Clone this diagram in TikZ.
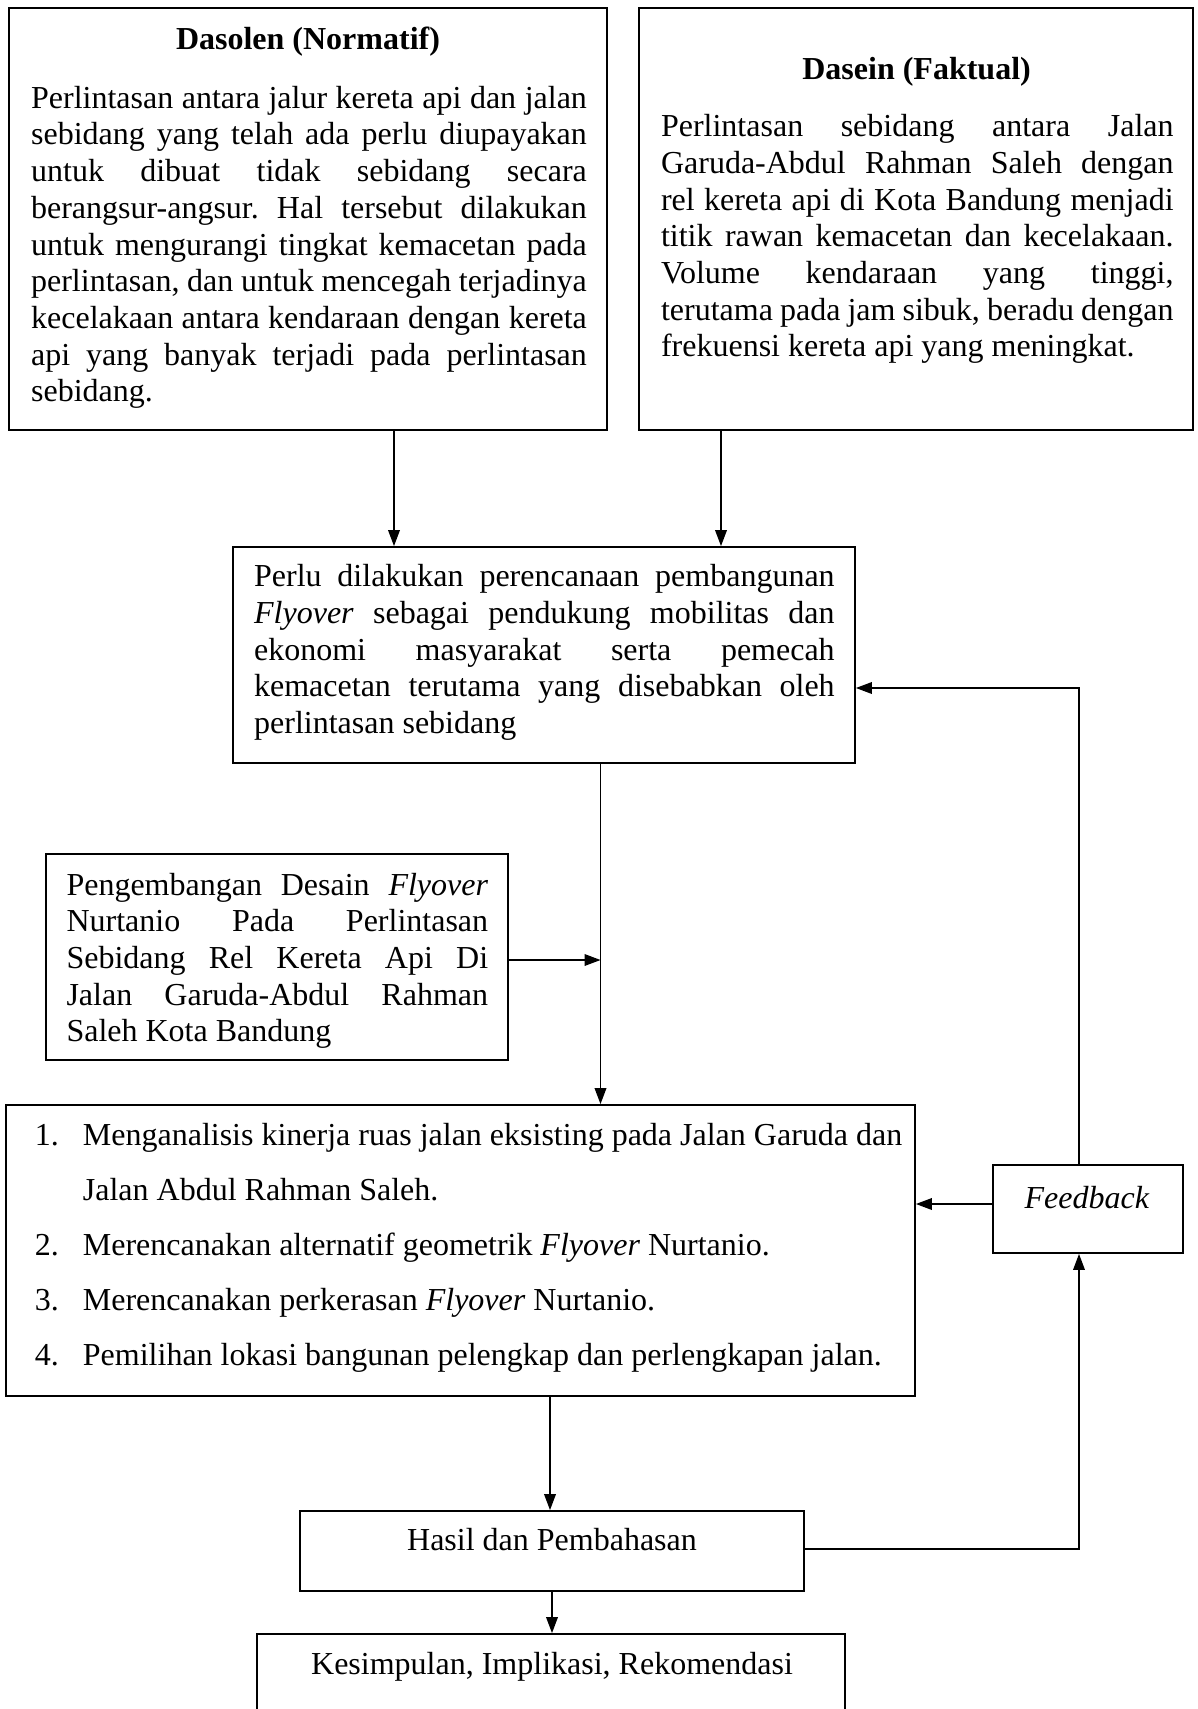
\documentclass[tikz,border=0pt]{standalone}
\usepackage{fontspec}
\setmainfont{Liberation Serif}
\usetikzlibrary{arrows.meta,fit}
\frenchspacing
\newcommand\jl[1]{\makebox[\linewidth][s]{#1}}
\newcommand\fo{\textit{Flyover}}
\newcommand\parat[2]{\parbox[t]{#1}{\fontsize{12}{13.76}\selectfont #2}}
\begin{document}
\begin{tikzpicture}[x=0.375pt,y=-0.375pt,
  every node/.style={font=\fontsize{12}{13.76}\selectfont},
  box/.style={draw,line width=0.7pt,inner sep=0pt},
  txt/.style={anchor=base west,inner sep=0pt},
  lbl/.style={anchor=base,inner sep=0pt},
  arr/.style={line width=0.45pt,-{Triangle[length=6pt,width=4.4pt]}},
  ln/.style={line width=0.45pt}]
\path[use as bounding box, clip] (0,0) rectangle (1198,1709);

% boxes
\node[box,fit={(9,8) (607,430)}] (b1) {};
\node[box,fit={(639,8) (1193,430)}] (b2) {};
\node[box,fit={(233,547) (855,763)}] (b3) {};
\node[box,fit={(46,854) (508,1060)}] (b4) {};
\node[box,fit={(6,1105) (915,1396)}] (b5) {};
\node[box,fit={(993,1165) (1183,1253)}] (fb) {};
\node[box,fit={(300,1511) (804,1591)}] (hs) {};
\node[box,fit={(257,1634) (845,1740)}] (ks) {};

% texts
\node[lbl] (h1) at (308,49.3) {\textbf{Dasolen (Normatif)}};
\node[txt] (t1) at (30.6,108.3) {\parat{208.4pt}{%
\jl{Perlintasan antara jalur kereta api dan jalan}\\
\jl{sebidang yang telah ada perlu diupayakan}\\
\jl{untuk dibuat tidak sebidang secara}\\
\jl{berangsur-angsur. Hal tersebut dilakukan}\\
\jl{untuk mengurangi tingkat kemacetan pada}\\
\jl{perlintasan, dan untuk mencegah terjadinya}\\
\jl{kecelakaan antara kendaraan dengan kereta}\\
\jl{api yang banyak terjadi pada perlintasan}\\
sebidang.}};

\node[lbl] (h2) at (916.6,79.3) {\textbf{Dasein (Faktual)}};
\node[txt] (t2) at (660.5,136.7) {\parat{192.2pt}{%
\jl{Perlintasan sebidang antara Jalan}\\
\jl{Garuda-Abdul Rahman Saleh dengan}\\
\jl{rel kereta api di Kota Bandung menjadi}\\
\jl{titik rawan kemacetan dan kecelakaan.}\\
\jl{Volume kendaraan yang tinggi,}\\
\jl{terutama pada jam sibuk, beradu dengan}\\
frekuensi kereta api yang meningkat.}};

\node[txt] (t3) at (253.6,586.7) {\parat{217.7pt}{%
\jl{Perlu dilakukan perencanaan pembangunan}\\
\jl{\fo{} sebagai pendukung mobilitas dan}\\
\jl{ekonomi masyarakat serta pemecah}\\
\jl{kemacetan terutama yang disebabkan oleh}\\
perlintasan sebidang}};

\node[txt] (t4) at (66,895) {\parat{158.1pt}{%
\jl{Pengembangan Desain \fo}\\
\jl{Nurtanio Pada Perlintasan}\\
\jl{Sebidang Rel Kereta Api Di}\\
\jl{Jalan Garuda-Abdul Rahman}\\
Saleh Kota Bandung}};

\node[txt] (t5) at (34.4,1145) {\parbox[t]{330pt}{\fontsize{12}{20.625}\selectfont
\makebox[18pt][l]{1.}Menganalisis kinerja ruas jalan eksisting pada Jalan Garuda dan\\
\hspace*{18pt}Jalan Abdul Rahman Saleh.\\
\makebox[18pt][l]{2.}Merencanakan alternatif geometrik \fo{} Nurtanio.\\
\makebox[18pt][l]{3.}Merencanakan perkerasan \fo{} Nurtanio.\\
\makebox[18pt][l]{4.}Pemilihan lokasi bangunan pelengkap dan perlengkapan jalan.}};

\node[lbl] (tf) at (1087,1208) {\textit{Feedback}};
\node[lbl] (th) at (552,1550) {Hasil dan Pembahasan};
\node[lbl] (tk) at (552,1674) {Kesimpulan, Implikasi, Rekomendasi};

% helper coordinates
\coordinate (xa) at (394,0);
\coordinate (xb) at (721,0);
\coordinate (xc) at (600.5,0);
\coordinate (yd) at (0,960);
\coordinate (xe) at (550,0);
\coordinate (xf) at (1079,0);
\coordinate (yg) at (0,688);
\coordinate (yh) at (0,1204);
\coordinate (yi) at (0,1549);
\coordinate (xj) at (552,0);
\coordinate (jn) at (xc |- yd);
\coordinate (cr1) at (xf |- yg);
\coordinate (cr2) at (xf |- yi);

% connectors
\draw[arr] (xa |- b1.south) -- (xa |- b3.north);
\draw[arr] (xb |- b2.south) -- (xb |- b3.north);
\draw[arr] (xc |- b3.south) -- (xc |- b5.north);
\draw[arr] (b4.east |- yd) -- (jn);
\draw[arr] (xe |- b5.south) -- (xe |- hs.north);
\draw[arr] (xj |- hs.south) -- (xj |- ks.north);
\draw[arr] (fb.west |- yh) -- (b5.east |- yh);
\draw[arr] (xf |- fb.north) -- (cr1) -- (b3.east |- yg);
\draw[arr] (hs.east |- yi) -- (cr2) -- (xf |- fb.south);
\end{tikzpicture}
\end{document}
